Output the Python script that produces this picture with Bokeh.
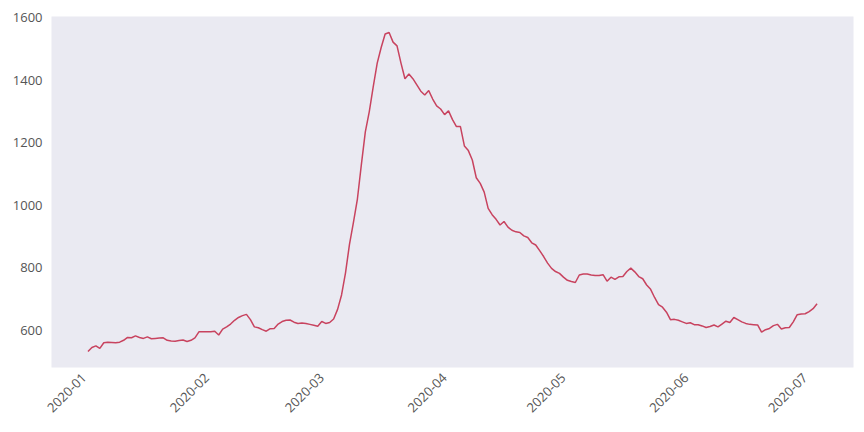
import math
import pandas as pd
from bokeh.plotting import figure
from bokeh.models import Range1d, DatetimeTickFormatter, MonthsTicker, ColumnDataSource
from bokeh.embed import file_html
from bokeh.resources import INLINE

start_date = "2020-01-02"
values = [
    532, 545, 550, 542, 560, 562, 561, 560, 562, 568,
    577, 576, 582, 577, 574, 579, 573, 574, 575, 576,
    568, 566, 565, 567, 569, 564, 568, 576, 595, 595,
    595, 595, 597, 585, 604, 611, 620, 632, 641, 647,
    651, 634, 611, 608, 602, 597, 605, 606, 620, 628,
    632, 633, 626, 622, 623, 622, 619, 616, 613, 628,
    622, 625, 636, 667, 713, 784, 875, 945, 1020, 1130,
    1235, 1300, 1380, 1455, 1505, 1548, 1553, 1522, 1510, 1455,
    1405, 1420, 1405, 1385, 1365, 1353, 1367, 1340, 1318, 1308,
    1290, 1302, 1274, 1252, 1252, 1190, 1175, 1145, 1088, 1070,
    1042, 990, 970, 955, 937, 948, 930, 920, 915, 913,
    902, 897, 880, 873, 855, 836, 815, 798, 788, 782,
    770, 760, 756, 753, 777, 780, 780, 777, 775, 775,
    778, 757, 770, 763, 771, 772, 788, 799, 787, 772,
    765, 745, 731, 705, 682, 674, 658, 634, 635, 632,
    627, 622, 624, 618, 618, 614, 609, 612, 617, 611,
    620, 629, 625, 641, 634, 627, 622, 619, 618, 617,
    594, 602, 606, 615, 619, 604, 608, 609, 627, 650,
    652, 653, 660, 669, 685,
]
y_ticks = [600, 800, 1000, 1200, 1400, 1600]
dates = pd.date_range(start_date, periods=len(values), freq="D")

src = ColumnDataSource(dict(date=dates, value=values))

span = dates[-1] - dates[0]
x0 = dates[0] - span * 0.05
x1 = dates[-1] + span * 0.05
vmin, vmax = min(values), max(values)
vs = vmax - vmin

p = figure(
    width=856, height=424,
    output_backend="svg", toolbar_location=None,
    x_axis_type="datetime",
    x_range=Range1d(x0, x1),
    y_range=Range1d(vmin - 0.05 * vs, vmax + 0.05 * vs),
    min_border_left=51, min_border_right=3, min_border_top=16, min_border_bottom=57,
    background_fill_color="#EAEAF2", border_fill_color="white",
)
p.outline_line_color = None
p.grid.grid_line_color = None

p.line("date", "value", source=src, line_color="#c8435f", line_width=1.5)

for ax in (p.xaxis, p.yaxis):
    ax.axis_line_color = None
    ax.major_tick_line_color = None
    ax.minor_tick_line_color = None
    ax.major_tick_out = 0
    ax.major_tick_in = 0
    ax.major_label_text_font = "Open Sans"
    ax.major_label_text_font_size = "13px"
    ax.major_label_text_color = "#555555"

p.yaxis.ticker = y_ticks
p.yaxis.major_label_standoff = 9
p.xaxis.ticker = MonthsTicker(months=list(range(1, 13)))
p.xaxis.formatter = DatetimeTickFormatter(months="%Y-%m", days="%Y-%m")
p.xaxis.major_label_orientation = math.pi / 4
p.xaxis.major_label_standoff = 8

open("out.html", "w").write(file_html(p, INLINE))
